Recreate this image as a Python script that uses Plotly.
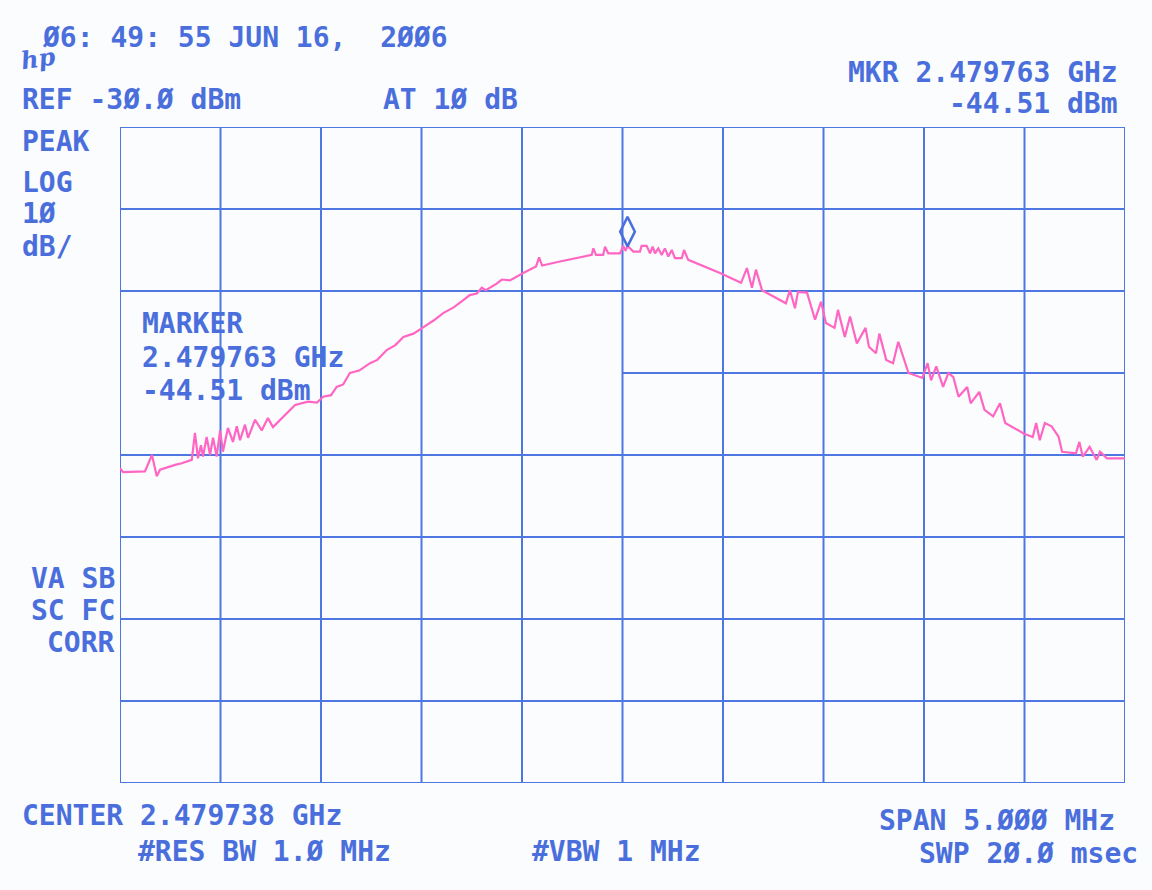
import plotly.graph_objects as go

# ---------------- data ----------------
center_ghz = 2.479738
span_mhz = 5.0
ref_dbm = -30.0
db_per_div = 10.0
n_xdiv = 10
n_ydiv = 8

mkr_ghz = 2.479763
mkr_dbm = -44.51

# trace: frequency offset from center (MHz) and level (dBm)
freq_offset_mhz = [
    -2.500, -2.485, -2.376, -2.361, -2.341, -2.317, -2.301, -2.226, -2.193, -2.143,
    -2.127, -2.112, -2.097, -2.087, -2.069, -2.052, -2.037, -2.019, -2.002, -1.988,
    -1.963, -1.938, -1.919, -1.903, -1.878, -1.863, -1.828, -1.795, -1.764, -1.739,
    -1.696, -1.664, -1.629, -1.565, -1.520, -1.489, -1.450, -1.422, -1.390, -1.356,
    -1.310, -1.256, -1.220, -1.173, -1.130, -1.090, -1.040, -0.990, -0.940, -0.892,
    -0.840, -0.792, -0.760, -0.725, -0.700, -0.680, -0.626, -0.600, -0.560, -0.494,
    -0.430, -0.415, -0.400, -0.311, -0.200, -0.153, -0.145, -0.132, -0.096, -0.087,
    -0.071, -0.012, 0.004, 0.015, 0.025, 0.054, 0.087, 0.095, 0.120, 0.137,
    0.150, 0.162, 0.178, 0.195, 0.211, 0.228, 0.245, 0.261, 0.295, 0.306,
    0.327, 0.485, 0.590, 0.619, 0.644, 0.664, 0.694, 0.813, 0.833, 0.858,
    0.873, 0.898, 0.918, 0.958, 0.988, 1.012, 1.055, 1.072, 1.106, 1.132,
    1.166, 1.209, 1.226, 1.261, 1.278, 1.312, 1.346, 1.372, 1.406, 1.423,
    1.492, 1.518, 1.535, 1.561, 1.595, 1.621, 1.646, 1.672, 1.715, 1.732,
    1.775, 1.801, 1.844, 1.878, 1.904, 1.998, 2.041, 2.058, 2.076, 2.101,
    2.135, 2.170, 2.187, 2.256, 2.273, 2.290, 2.324, 2.359, 2.376, 2.410,
    2.500,
]
level_dbm = [
    -71.6, -72.1, -72.0, -71.2, -70.0, -72.6, -71.8, -71.2, -71.0, -70.6,
    -67.3, -70.4, -68.8, -70.2, -67.8, -70.0, -67.9, -70.2, -67.0, -69.6,
    -66.7, -68.4, -66.5, -68.2, -66.3, -67.9, -65.7, -67.0, -65.5, -66.6,
    -65.5, -64.8, -63.9, -63.5, -63.6, -62.9, -62.7, -61.7, -61.4, -60.0,
    -59.7, -58.8, -58.4, -57.2, -56.6, -55.6, -55.2, -54.4, -53.6, -52.7,
    -52.0, -51.1, -50.5, -50.3, -49.6, -49.9, -49.1, -48.6, -48.7, -47.8,
    -47.0, -45.9, -46.9, -46.4, -45.8, -45.6, -44.8, -45.6, -45.6, -44.6,
    -45.4, -45.4, -44.5, -45.1, -44.51, -45.2, -45.2, -44.5, -44.5, -45.4,
    -44.6, -45.4, -44.8, -45.6, -44.8, -45.8, -45.0, -46.0, -46.0, -45.0,
    -46.2, -47.8, -49.0, -47.2, -49.6, -47.4, -49.9, -51.5, -49.9, -52.1,
    -50.1, -50.2, -50.2, -53.5, -51.3, -53.9, -54.5, -52.3, -55.6, -53.1,
    -56.4, -54.5, -56.8, -57.6, -55.2, -58.4, -58.8, -56.2, -58.8, -60.0,
    -60.6, -58.8, -60.9, -59.2, -61.7, -60.0, -60.5, -62.9, -61.7, -63.7,
    -62.3, -64.5, -65.3, -63.7, -66.1, -67.4, -67.8, -66.1, -68.2, -66.1,
    -66.5, -67.8, -69.6, -69.8, -68.4, -70.2, -69.0, -70.6, -69.6, -70.4,
    -70.4,
]

# header / footer labels of the analyzer screen
label_time = "Ø6: 49: 55 JUN 16,  2ØØ6"
label_ref = "REF -3Ø.Ø dBm"
label_atten = "AT 1Ø dB"
label_mkr = ["MKR 2.479763 GHz", "-44.51 dBm"]
label_mode = ["PEAK", "LOG", "1Ø", "dB/"]
label_marker_box = ["MARKER", "2.479763 GHz", "-44.51 dBm"]
label_flags = ["VA SB", "SC FC", "CORR"]
label_center = "CENTER 2.479738 GHz"
label_rbw = "#RES BW 1.Ø MHz"
label_vbw = "#VBW 1 MHz"
label_span = "SPAN 5.ØØØ MHz"
label_swp = "SWP 2Ø.Ø msec"

# ---------------- style ----------------
W, H = 1152, 890
L, R, T, B = 120, 1125, 127, 783
BLUE = "#4a6fdc"
GRID = "#4f77e2"
PINK = "#ff66c4"
FONT = "DejaVu Sans Mono"
FS = 28

half = span_mhz / 2
x_lo, x_hi = -half, half
y_hi = ref_dbm
y_lo = ref_dbm - db_per_div * n_ydiv

fig = go.Figure()

# grid
shapes = []
for i in range(n_xdiv + 1):
    xv = x_lo + i * span_mhz / n_xdiv
    shapes.append(dict(type="line", xref="x", yref="y", x0=xv, x1=xv, y0=y_lo, y1=y_hi,
                       line=dict(color=GRID, width=2), layer="below"))
for j in range(n_ydiv + 1):
    yv = y_hi - j * db_per_div
    x_start = x_lo
    if j == 3:  # this line is blanked on the left half (under the marker readout)
        x_start = 0.0
    shapes.append(dict(type="line", xref="x", yref="y", x0=x_start, x1=x_hi, y0=yv, y1=yv,
                       line=dict(color=GRID, width=2), layer="below"))

fig.add_trace(go.Scatter(x=freq_offset_mhz, y=level_dbm, mode="lines",
                         line=dict(color=PINK, width=2.2), hoverinfo="skip", showlegend=False))

mkr_offset_mhz = (mkr_ghz - center_ghz) * 1000
fig.add_trace(go.Scatter(x=[mkr_offset_mhz], y=[mkr_dbm + 1.75], mode="markers",
                         marker=dict(symbol="diamond-tall-open", size=21,
                                     line=dict(color=BLUE, width=2.5), color=BLUE),
                         hoverinfo="skip", showlegend=False))


def px(x):
    return (x - L) / (R - L)


def py(y):
    return (B - y) / (B - T)


annotations = []


def txt(s, x, y, anchor="left", size=FS):
    annotations.append(dict(text="<b>" + s + "</b>", xref="paper", yref="paper", x=px(x), y=py(y),
                            xanchor=anchor, yanchor="middle", showarrow=False,
                            font=dict(family=FONT, size=size, color=BLUE)))


txt(label_time, 40, 37, "left")
annotations.append(dict(text="<b><i>hp</i></b>", xref="paper", yref="paper", x=px(38), y=py(59),
                        xanchor="center", yanchor="middle", showarrow=False, textangle=-8,
                        font=dict(family="DejaVu Serif", size=24, color=BLUE)))
txt(label_ref, 20, 100, "left")
txt(label_atten, 381, 100, "left")
txt(label_mkr[0], 1120, 72, "right")
txt(label_mkr[1], 1120, 104, "right")
for s, yy in zip(label_mode, [142, 182, 213, 246]):
    txt(s, 20, yy, "left")
for s, yy in zip(label_marker_box, [323, 357, 390]):
    txt(s, 140, yy, "left")
for s, yy in zip(label_flags, [578, 610, 642]):
    txt(s, 117, yy, "right")
txt(label_center, 20, 815, "left")
txt(label_rbw, 393, 851, "right")
txt(label_vbw, (518 + 715) / 2, 851, "center")
txt(label_span, 1117, 820, "right")
txt(label_swp, 1140, 853, "right")

fig.update_layout(
    width=W, height=H,
    margin=dict(l=L, r=W - R, t=T, b=H - B, pad=0),
    paper_bgcolor="#fbfcfe", plot_bgcolor="#fbfcfe",
    xaxis=dict(range=[x_lo, x_hi], showgrid=False, zeroline=False, showticklabels=False,
               ticks="", showline=False, fixedrange=True),
    yaxis=dict(range=[y_lo, y_hi], showgrid=False, zeroline=False, showticklabels=False,
               ticks="", showline=False, fixedrange=True),
    shapes=shapes,
    annotations=annotations,
    showlegend=False,
)

fig.write_html("out.html", config={"displayModeBar": False})
